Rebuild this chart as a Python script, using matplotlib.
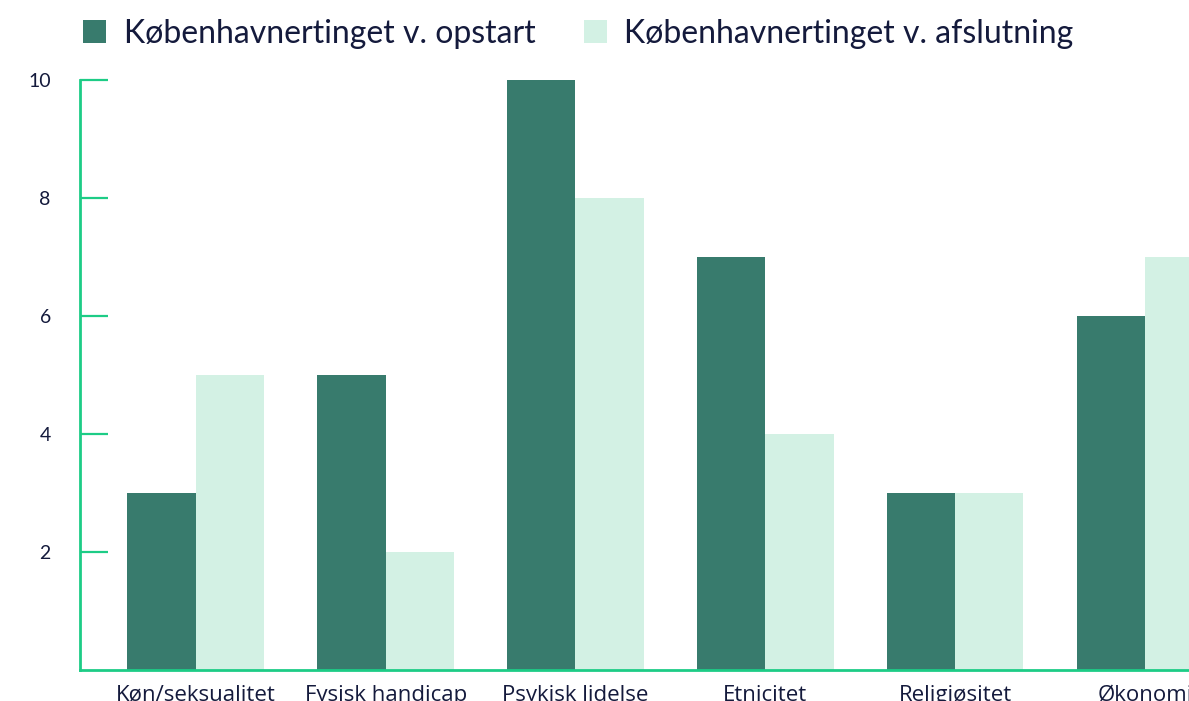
import matplotlib.pyplot as plt
import numpy as np

# ---------------- data ----------------
categories = ["Køn/seksualitet", "Fysisk handicap", "Psykisk lidelse",
              "Etnicitet", "Religiøsitet", "Økonomi"]
opstart = [3, 5, 10, 7, 3, 6]
afslutning = [5, 2, 8, 4, 3, 7]
series_names = ["Københavnertinget v. opstart", "Københavnertinget v. afslutning"]
yticks = [2, 4, 6, 8, 10]

# ---------------- style ----------------
dark = "#387b6d"
light = "#d3f1e4"
green = "#1dcc86"
navy = "#141a3c"
plt.rcParams["font.family"] = ["Lato", "DejaVu Sans"]

fig = plt.figure(figsize=(11.89, 7.01), dpi=100)
ax = fig.add_axes([0.0673, 0.0442, 0.993, 0.8417])

x = np.arange(len(categories))
w = 0.36
ax.bar(x - w / 2, opstart, w, color=dark, label=series_names[0])
ax.bar(x + w / 2, afslutning, w, color=light, label=series_names[1])

ax.set_xlim(-0.61, 5.61)
ax.set_ylim(0, 10)
ax.set_yticks(yticks)
ax.set_yticklabels([str(v) for v in yticks])
ax.set_xticks(x)
ax.set_xticklabels(categories, family=["Open Sans", "DejaVu Sans"])

for s in ["top", "right"]:
    ax.spines[s].set_visible(False)
for s in ["left", "bottom"]:
    ax.spines[s].set_color(green)
    ax.spines[s].set_linewidth(2)

ax.tick_params(axis="y", direction="in", length=20, width=1.6, color=green,
               pad=21, labelsize=14, labelcolor=navy)
ax.tick_params(axis="x", length=0, pad=10.5, labelsize=16, labelcolor=navy)

leg = fig.legend(loc="upper left", bbox_to_anchor=(0.046, 1.014), ncol=2,
                 frameon=False, fontsize=23, handlelength=0.72, handleheight=0.72,
                 handletextpad=0.55, columnspacing=1.5, labelcolor=navy)

fig.savefig("out.png", dpi=100)
